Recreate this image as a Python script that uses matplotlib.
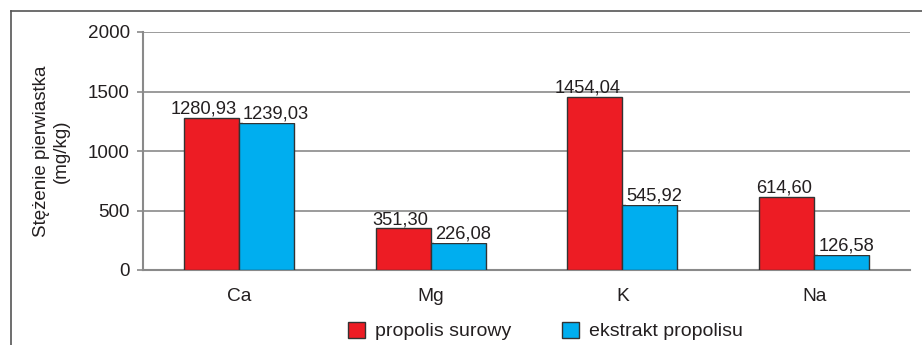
import numpy as np
import matplotlib
matplotlib.use("Agg")
import matplotlib.pyplot as plt
from matplotlib.lines import Line2D
from matplotlib.patches import Patch

plt.rcParams['font.family'] = ['Liberation Sans', 'DejaVu Sans']

elements = ['Ca', 'Mg', 'K', 'Na']
raw = [1280.93, 351.30, 1454.04, 614.60]
extract = [1239.03, 226.08, 545.92, 126.58]
series_names = ['propolis surowy', 'ekstrakt propolisu']

red = '#ED1C24'
blue = '#00AEEF'
grid_col = '#8a8a8a'
txt = '#231f20'

fig = plt.figure(figsize=(9.22, 3.45), dpi=100)
ax = fig.add_axes([143 / 922, 1 - 270 / 345, (910 - 143) / 922, (270 - 32) / 345])

x = np.arange(len(elements))
w = 0.287
b1 = ax.bar(x - w / 2, raw, w, color=red, edgecolor='#333333', linewidth=1, zorder=3)
b2 = ax.bar(x + w / 2, extract, w, color=blue, edgecolor='#333333', linewidth=1, zorder=3)

def fmt(v):
    return f'{v:.2f}'.replace('.', ',')

# red labels hug the right edge of their bar, blue ones the left edge
for r, v in zip(b1, raw):
    ax.annotate(fmt(v), (r.get_x() + r.get_width(), v), xytext=(-1.5, 3), textcoords='offset points',
                ha='right', va='baseline', fontsize=13.2, color=txt, zorder=4)
for r, v in zip(b2, extract):
    ax.annotate(fmt(v), (r.get_x(), v), xytext=(3, 3), textcoords='offset points',
                ha='left', va='baseline', fontsize=13.2, color=txt, zorder=4,
                bbox=dict(facecolor='white', edgecolor='none', pad=0.3))

ax.set_xlim(-0.5, len(elements) - 0.5)
ax.set_ylim(0, 2000)
ax.set_yticks([0, 500, 1000, 1500, 2000])
ax.yaxis.grid(True, color=grid_col, linewidth=1.2, zorder=0)
ax.set_xticks(x)
ax.set_xticklabels(elements, fontsize=13.8, color=txt)
ax.tick_params(axis='x', length=0, pad=13)
ax.tick_params(axis='y', length=4.5, color=grid_col, width=1.2, labelsize=13.6,
               labelcolor=txt, pad=5)
for s in ('top', 'right'):
    ax.spines[s].set_visible(False)
for s in ('left', 'bottom'):
    ax.spines[s].set_color(grid_col)
    ax.spines[s].set_linewidth(1.5)

ax.set_ylabel('Stężenie pierwiastka\n(mg/kg)', fontsize=13.5, color=txt, labelpad=13,
              linespacing=1.2)

handles = [Patch(facecolor=red, edgecolor='#333333'), Patch(facecolor=blue, edgecolor='#333333')]
fig.legend(handles, series_names, loc='center', bbox_to_anchor=(545.5 / 922, 1 - 331 / 345), ncol=2,
           frameon=False, fontsize=14, labelcolor=txt, handlelength=0.9, handleheight=0.9,
           columnspacing=2.6, handletextpad=0.5)

# outer frame: left and top edges only
fig.add_artist(Line2D([11 / 922, 11 / 922], [0, 1 - 11 / 345], color='#555555', linewidth=1.2))
fig.add_artist(Line2D([11 / 922, 1], [1 - 11 / 345, 1 - 11 / 345], color='#555555', linewidth=1.2))

fig.savefig('out.png', dpi=100)
